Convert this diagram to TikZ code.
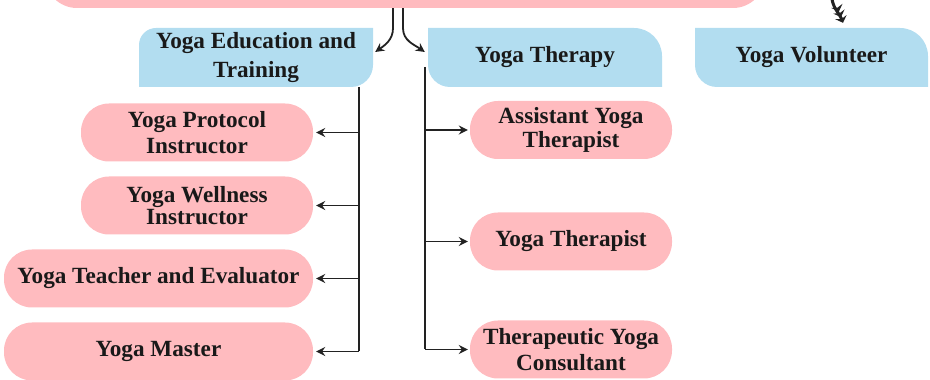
\documentclass[tikz,border=0pt]{standalone}
\usepackage{fontspec}
\setmainfont{Liberation Serif}
\usetikzlibrary{arrows.meta, calc}
\definecolor{rosebox}{RGB}{255,187,191}
\definecolor{skybox}{RGB}{178,221,240}
\definecolor{inkline}{RGB}{34,34,34}

\begin{document}
\begin{tikzpicture}[x=1pt, y=1pt, arrow/.style = {line width=1.8pt, draw=inkline, -{Stealth[length=9pt, width=9pt, inset=3pt]}}]
				\tikzset{txt/.style={font=\bfseries\fontsize{23.2}{25.5}\selectfont, align=center, inner sep=0pt, text=black!90}}
				\tikzset{role/.style={txt, fill=rosebox, rounded corners=28pt, minimum height=58pt}}
				\tikzset{area/.style={txt, minimum width=234pt, minimum height=59pt}}
				\tikzset{leftleaf/.style={area, path picture={\fill[skybox] (path picture bounding box.south west) -- ([yshift=-17pt]path picture bounding box.north west) arc[start angle=180, end angle=90, radius=17pt] -- (path picture bounding box.north east) -- ([yshift=22pt]path picture bounding box.south east) arc[start angle=0, end angle=-90, radius=22pt] -- cycle;}}}
				\tikzset{rightleaf/.style={area, path picture={\fill[skybox] (path picture bounding box.north west) -- ([xshift=-28pt]path picture bounding box.north east) arc[start angle=90, end angle=0, radius=28pt] -- (path picture bounding box.south east) -- ([xshift=22pt]path picture bounding box.south west) arc[start angle=270, end angle=180, radius=22pt] -- cycle;}}}

				\useasboundingbox (0,0) rectangle (930,380);
				\clip (0,0) rectangle (930,380);

				\node[fill=rosebox, rounded corners=32pt, minimum width=720pt, minimum height=80pt, inner sep=0pt] (head) at (405,412) {};

				\node[leftleaf] (edu) at (256,322.5) {Yoga Education and\\[4pt]Training};
				\node[rightleaf] (ther) at (545,322.5) {Yoga Therapy};
				\node[rightleaf, minimum width=233pt] (vol) at (811.5,322.5) {Yoga Volunteer};

				\node[role, minimum width=232pt] (prot) at (197,247.5) {Yoga Protocol\\Instructor};
				\node[role, minimum width=232pt] (well) at (197,174.5) {Yoga Wellness\\[-4pt]Instructor};
				\node[role, minimum width=309pt] (teach) at (158.5,101.5) {Yoga Teacher and Evaluator};
				\node[role, minimum width=309pt] (mast) at (158.5,28.5) {Yoga Master};

				\node[role, minimum width=202pt] (asst) at (571,250) {Assistant Yoga\\[-1.5pt]Therapist};
				\node[role, minimum width=202pt] (thpst) at (571,138.5) {Yoga Therapist};
				\node[role, minimum width=202pt] (cons) at (571,30.5) {Therapeutic Yoga\\Consultant};

				\coordinate (eduTop) at ($(edu.south east)+(-14,0)$);
				\coordinate (therTop) at ($(ther.west)+(-3,-9.5)$);

				\draw[line width=1.8pt, inkline] (eduTop) -- (eduTop |- mast.east);
				\draw[line width=1.8pt, inkline] (therTop) -- (therTop |- cons.west);

				\foreach \n in {prot, well, teach, mast}
					\draw[arrow, shorten >=3pt] (eduTop |- \n.east) -- (\n.east);
				\foreach \n in {asst, thpst, cons}
					\draw[arrow, shorten >=2pt] (therTop |- \n.west) -- (\n.west);

				\draw[arrow] ($(head.south)+(-12,0)$) -- ++(0,-20) to[out=-90, in=35] ($(edu.east)+(2,5.5)$);
				\draw[arrow] ($(head.south)+(-2,0)$) -- ++(0,-20) to[out=-90, in=145] ($(ther.west)+(-3,5.5)$);

				\draw[line width=3pt, inkline, -{Stealth[length=6pt, width=12pt]Stealth[length=6pt, width=12pt]Stealth[length=6pt, width=12pt]}] ($(vol.north)+(20.5,28.5)$) to[out=-80, in=110] ($(vol.north)+(31.5,5)$);

			\end{tikzpicture}
\end{document}
